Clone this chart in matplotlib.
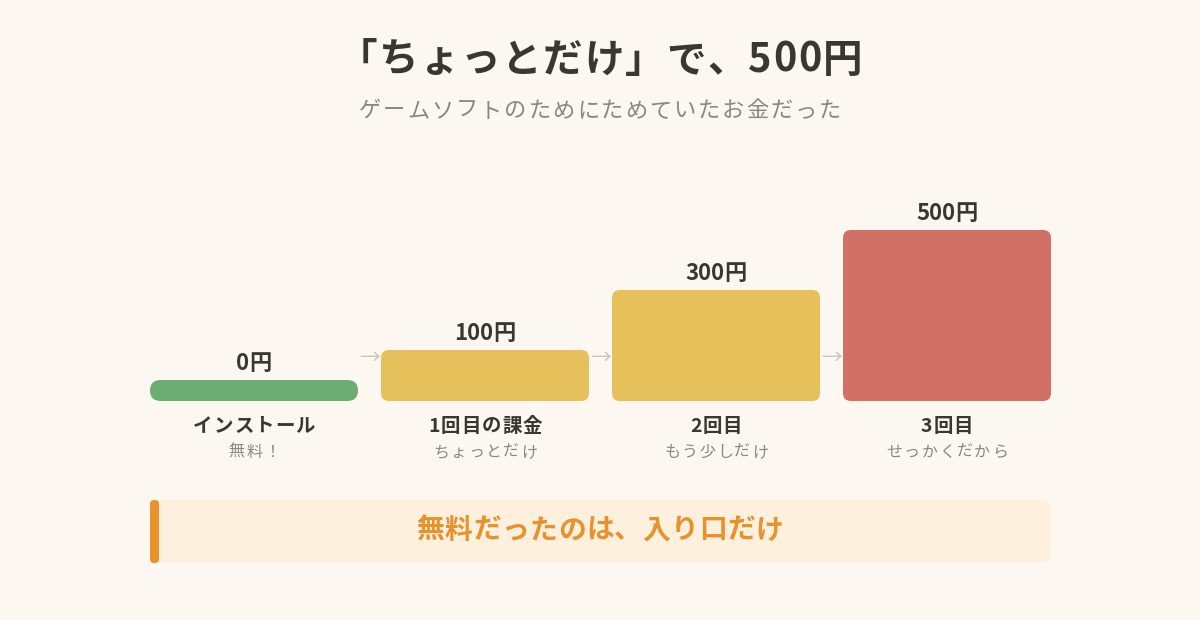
import matplotlib
matplotlib.use("Agg")
import matplotlib.pyplot as plt
from matplotlib.patches import FancyBboxPatch
from matplotlib.font_manager import FontProperties, findfont
from matplotlib.ft2font import FT2Font

plt.rcParams['font.family'] = ['Noto Sans CJK JP', 'DejaVu Sans']

# ---- data ----
title = "「ちょっとだけ」で、500円"
subtitle = "ゲームソフトのためにためていたお金だった"
steps = ["インストール", "1回目の課金", "2回目", "3回目"]
notes = ["無料！", "ちょっとだけ", "もう少しだけ", "せっかくだから"]
amounts = [0, 100, 300, 500]
value_labels = ["0円", "100円", "300円", "500円"]
colors = ["#6aae72", "#e6c05a", "#e6c05a", "#d27065"]
banner = "無料だったのは、入り口だけ"

BG = "#fcf8f1"
DARK = "#3b3632"
GREY = "#8c8680"
DPI = 100

fig = plt.figure(figsize=(12, 6.2), dpi=DPI, facecolor=BG)
ax = fig.add_axes([0, 0, 1, 1])
ax.set_xlim(0, 1200)
ax.set_ylim(620, 0)
ax.axis("off")
ax.set_facecolor(BG)

_font_cache = {}


def advances(s, size, weight):
    if weight not in _font_cache:
        fp = FontProperties(family="Noto Sans CJK JP", weight=weight)
        _font_cache[weight] = FT2Font(findfont(fp))
    f = _font_cache[weight]
    f.set_size(size, 72)
    out = []
    for ch in s:
        g = f.load_char(ord(ch))
        out.append(g.linearHoriAdvance / 65536 * DPI / 72)
    return out


def spaced_text(cx, baseline, s, size, weight="normal", color=DARK, spacing=0.0):
    adv = advances(s, size, weight)
    total = sum(adv) + spacing * (len(s) - 1)
    x = cx - total / 2
    for ch, a in zip(s, adv):
        ax.text(x, baseline, ch, ha="left", va="baseline", fontsize=size,
                fontweight=weight, color=color)
        x += a + spacing


# title
spaced_text(600, 72, title, 28.5, "bold", DARK, spacing=1.5)
spaced_text(600, 117, subtitle, 16, "normal", GREY, spacing=2.0)

# bar geometry (pixel scale derived from values)
x0 = 150
bar_w = 208
gap = 23
base_y = 401
min_h = 21
px_per_yen = 0.3

for i, (amt, lab, col) in enumerate(zip(amounts, value_labels, colors)):
    left = x0 + i * (bar_w + gap)
    h = min_h + amt * px_per_yen
    top = base_y - h
    r = min_h / 2 if amt == 0 else 8
    p = FancyBboxPatch((left, top), bar_w, h,
                       boxstyle=f"round,pad=0,rounding_size={r}",
                       fc=col, ec="none", mutation_aspect=1)
    ax.add_patch(p)
    cx = left + bar_w / 2
    spaced_text(cx, top - 10.5, lab, 16, "bold", DARK, spacing=0)
    spaced_text(cx, 432, steps[i], 14, "bold", DARK, spacing=1.0)
    spaced_text(cx, 457, notes[i], 11.5, "normal", GREY, spacing=1.6)
    if i < len(amounts) - 1:
        ax.text(left + bar_w + gap / 2, 358, "→", ha="center", va="center",
                fontsize=15, color="#cbc4bb")

# banner
bx, by, bw, bh = 150, 500, 901, 63
ax.add_patch(FancyBboxPatch((bx, by), bw, bh,
                            boxstyle="round,pad=0,rounding_size=12",
                            fc="#fdf0dc", ec="none"))
ax.add_patch(FancyBboxPatch((bx, by), 9, bh,
                            boxstyle="round,pad=0,rounding_size=4",
                            fc="#e8922e", ec="none"))
spaced_text(600, 538.5, banner, 20, "bold", "#e8922e", spacing=0.5)

fig.savefig("out.png", dpi=DPI, facecolor=BG)
